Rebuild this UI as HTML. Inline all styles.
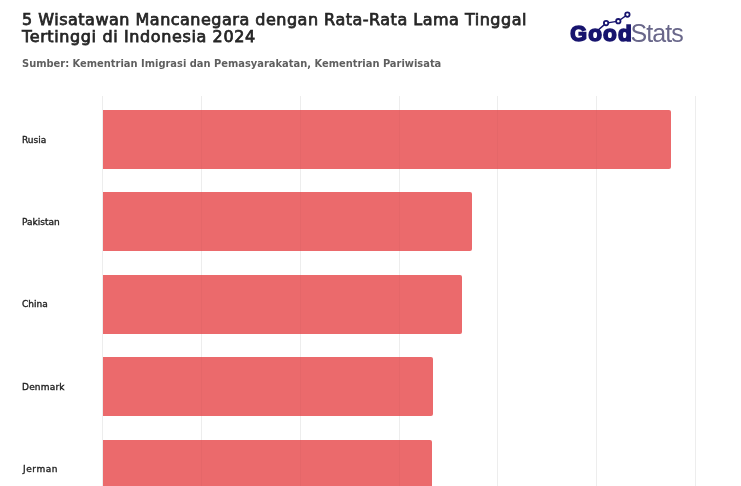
<!DOCTYPE html>
<html>
<head>
<meta charset="utf-8">
<style>
html,body{margin:0;padding:0;background:#fff;}
.t,.lab,#logo{will-change:transform;}
body{width:741px;height:486px;position:relative;overflow:hidden;font-family:"DejaVu Sans Condensed","DejaVu Sans","Liberation Sans",sans-serif;}
.t{position:absolute;white-space:nowrap;}
#title{left:22px;top:11px;font-family:"DejaVu Sans",sans-serif;font-weight:normal;font-size:16px;line-height:17.4px;color:#262626;letter-spacing:0.5px;-webkit-text-stroke:0.75px #262626;}
#sub{left:22px;top:57.3px;font-weight:bold;font-size:11px;line-height:13px;color:#5f5f5f;}
.lab{position:absolute;left:22px;font-family:"DejaVu Sans",sans-serif;font-size:9px;line-height:10px;color:#1e1e1e;-webkit-text-stroke:0.35px #1e1e1e;}
.grid{position:absolute;top:96px;width:1px;height:390px;background:#f3f3f3;}
.bar{position:absolute;left:103px;height:59px;background:#eb6a6c;border-radius:0 2px 2px 0;}
.gridt{position:absolute;top:96px;width:1px;height:390px;background:rgba(0,0,0,0.025);}
#logo{position:absolute;left:569px;top:7px;width:120px;height:40px;}
#good{position:absolute;left:1.2px;top:12.8px;font-family:"Liberation Sans",sans-serif;font-weight:bold;font-size:22.5px;line-height:28px;color:#17146e;letter-spacing:1.2px;-webkit-text-stroke:1.6px #17146e;}
#good .g{font-size:21.5px;}
#stats{position:absolute;left:61.5px;top:12px;font-family:"Liberation Sans",sans-serif;font-weight:normal;font-size:25px;line-height:28px;color:#69678a;letter-spacing:-0.9px;}
</style>
</head>
<body>
<div class="t" id="title">5 Wisatawan Mancanegara dengan Rata-Rata Lama Tinggal<br><span style="letter-spacing:0.62px">Tertinggi di Indonesia 2024</span></div>
<div class="t" id="sub">Sumber: Kementrian Imigrasi dan Pemasyarakatan, Kementrian Pariwisata</div>

<div id="logo">
  <span id="good"><span class="g">G</span>ood</span>
  <span id="stats">Stats</span>
  <svg width="120" height="40" style="position:absolute;left:0;top:0" viewBox="0 0 120 40">
    <polyline points="28.2,23.9 37.1,16.1 49.3,14.2 58.4,7.6" fill="none" stroke="#17146e" stroke-width="1.4"/>
    <circle cx="37.1" cy="16.1" r="2.2" fill="#fff" stroke="#17146e" stroke-width="1.8"/>
    <circle cx="49.3" cy="14.2" r="2.2" fill="#fff" stroke="#17146e" stroke-width="1.8"/>
    <circle cx="58.4" cy="7.6" r="2.2" fill="#fff" stroke="#17146e" stroke-width="1.8"/>
  </svg>
</div>

<div class="grid" style="left:102px"></div>
<div class="grid" style="left:201px"></div>
<div class="grid" style="left:300px"></div>
<div class="grid" style="left:399px"></div>
<div class="grid" style="left:497px"></div>
<div class="grid" style="left:596px"></div>
<div class="grid" style="left:695px"></div>

<div class="bar" style="top:110px;width:568px"></div>
<div class="bar" style="top:192px;width:369px"></div>
<div class="bar" style="top:275px;width:359px"></div>
<div class="bar" style="top:357px;width:329.5px"></div>
<div class="bar" style="top:439.5px;width:328.5px"></div>

<div class="gridt" style="left:102px"></div>
<div class="gridt" style="left:201px"></div>
<div class="gridt" style="left:300px"></div>
<div class="gridt" style="left:399px"></div>
<div class="gridt" style="left:497px"></div>
<div class="gridt" style="left:596px"></div>
<div class="gridt" style="left:695px"></div>

<div class="lab" style="top:134.5px">Rusia</div>
<div class="lab" style="top:217px">Pakistan</div>
<div class="lab" style="top:298.7px">China</div>
<div class="lab" style="top:382px;letter-spacing:0.2px">Denmark</div>
<div class="lab" style="top:463.5px;left:23px;letter-spacing:0.55px">Jerman</div>
</body>
</html>
